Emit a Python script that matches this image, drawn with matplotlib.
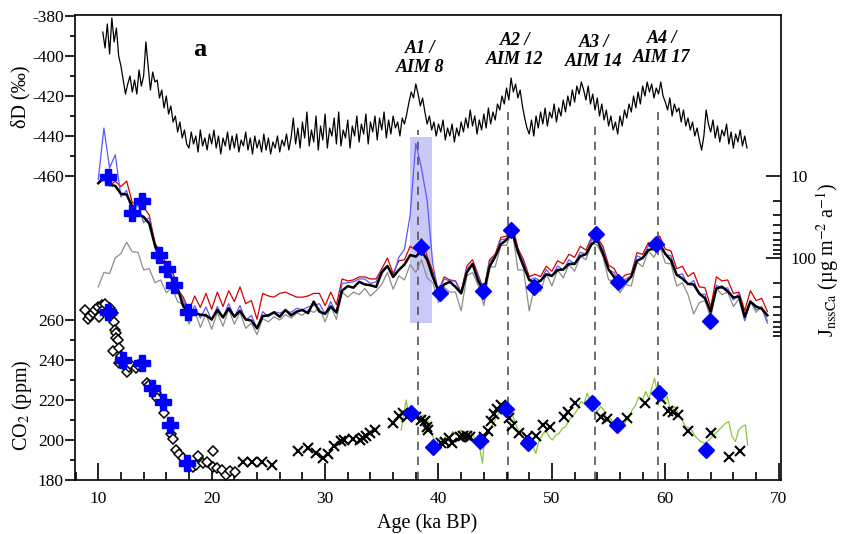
import numpy as np
import matplotlib.pyplot as plt
from matplotlib.ticker import NullFormatter

plt.rcParams['font.family'] = ['Liberation Serif', 'DejaVu Serif']
plt.rcParams['mathtext.fontset'] = 'stix'
plt.rcParams['axes.unicode_minus'] = False

# --- EDC deuterium (permil), sampled every 0.2 ka from 10.4 ka ---
dD = [-388, -396, -384, -399, -381, -393, -386, -400,
      -405, -412, -419, -414,
      -410, -418, -412, -419, -407, -415, -410, -393, -405, -417, -408, -413,
      -412, -421, -417, -426, -420, -429, -425, -433, -430, -438, -433, -441, -437, -444,
      -446, -438, -444, -440, -448, -437, -445, -441, -447, -439,
      -444, -437, -446, -440, -449, -441, -445, -438, -447, -440,
      -446, -439, -448, -442, -445, -438, -447, -441, -449, -440,
      -446, -442, -448, -439, -447, -441, -449, -443, -446, -440,
      -448, -442, -445, -439, -447, -441,
      -431, -444, -436, -446, -433, -441, -428, -445, -437, -443,
      -430, -447, -435, -442, -429, -446, -436, -440, -431, -444,
      -428, -445, -437, -441, -432, -446, -435, -440, -430, -443,
      -434, -439, -429, -444, -433, -438, -430, -442, -431, -437,
      -428, -441, -432, -439, -430, -436, -433, -440, -431, -434,
      -429, -423, -418, -421, -414, -419, -425, -421,
      -428, -434, -430, -437, -433, -440, -434, -438, -432, -442,
      -436, -440, -434, -443, -436, -440, -433, -438, -431, -436,
      -427, -435, -430, -439, -432, -437, -429, -436, -426, -434,
      -428, -432, -424, -427, -420, -424,
      -416, -422, -411, -418, -414, -421, -417, -425,
      -431, -436, -439, -432, -440, -430, -436, -428, -434, -426,
      -435, -428, -431, -424, -433, -426, -430, -422, -428, -420,
      -425, -417, -423, -415, -419, -413,
      -417, -422, -415, -424, -419, -427, -421, -430, -424, -432,
      -427, -435, -430, -437, -433, -439, -430, -435, -427, -431,
      -424, -428, -420, -426, -418, -424, -415, -420, -413, -418,
      -414, -421, -416, -419, -413, -420,
      -423, -427, -421, -430, -424, -428, -426, -433, -427, -435,
      -431, -437, -433, -440, -436, -442, -447, -440, -427, -434,
      -438, -432, -441, -435, -443, -437, -440, -434, -444, -438,
      -446, -439, -443, -437, -445, -440, -446]
dD_age = np.linspace(10.4, 67.2, len(dD))

# --- nssCa flux (ug m-2 a-1), every 0.5 ka from 10 to 69 ka ---
ca_black = [12.2, 10.4, 12.8, 13.2, 16.5, 16.8, 23.5, 29, 31.5, 38,
            70, 108, 116, 180, 235, 390, 455, 470, 490, 500,
            560, 430, 530, 410, 520, 440, 560, 580, 720, 510,
            500, 460, 520, 430, 500, 450, 430, 470, 340, 450,
            480, 390, 460, 250, 220, 230, 195, 210, 215, 225,
            150, 125, 170, 140, 120, 92, 96, 82, 105, 170,
            255, 210, 195, 225, 270, 150, 118, 190, 255, 128,
            96, 68, 60, 48, 84, 126, 185, 200, 190, 158,
            165, 140, 138, 118, 118, 95, 90, 68, 60, 88,
            138, 172, 205, 200, 168, 108, 100, 80, 77, 68,
            89, 107, 160, 178, 207, 210, 272, 310, 450, 236,
            224, 255, 303, 295, 520, 340, 390, 415, 500]
ca_red = [12.5, 11.0, 13.2, 11.6, 13.5, 11.5, 21, 23, 24, 30,
          66, 85, 118, 135, 240, 300, 440, 290, 400, 270,
          420, 260, 390, 250, 340, 225, 360, 330, 560, 270,
          290, 300, 270, 260, 280, 300, 300, 290, 270, 270,
          380, 260, 370, 180, 190, 185, 170, 170, 180, 180,
          135, 100, 155, 108, 105, 72, 80, 58, 95, 145,
          255, 170, 185, 190, 260, 125, 105, 160, 245, 105,
          90, 56, 54, 38, 76, 105, 168, 158, 168, 126,
          145, 108, 118, 90, 98, 72, 80, 56, 56, 72,
          122, 135, 185, 160, 155, 86, 90, 65, 70, 54,
          78, 82, 135, 126, 168, 150, 225, 230, 400, 170,
          190, 185, 270, 260, 440, 250, 330, 310, 450]
ca_blue = [11, 2.6, 8, 5.5, 18, 15, 30, 22, 37, 32,
           76, 88, 145, 142, 260, 320, 580, 380, 540, 395,
           580, 390, 530, 360, 520, 380, 580, 500, 720, 450,
           520, 450, 470, 440, 460, 410, 430, 395, 380, 360,
           480, 340, 470, 205, 200, 195, 180, 180, 205, 195,
           140, 125, 168, 98, 78, 30, 4.0, 8.0, 20, 120,
           260, 180, 190, 192, 270, 135, 118, 165, 258, 112,
           95, 60, 58, 42, 84, 112, 185, 175, 190, 138,
           168, 125, 140, 105, 118, 85, 90, 60, 62, 78,
           140, 150, 212, 180, 168, 94, 100, 71, 78, 60,
           90, 94, 162, 156, 212, 188, 280, 275, 500, 215,
           235, 232, 325, 268, 580, 340, 425, 410, 620]
ca_gray = [225, 150, 155, 100, 88, 64, 84, 85, 140, 135,
           200, 185, 265, 230, 340, 370, 640, 440, 700, 480,
           740, 460, 680, 420, 640, 460, 720, 620, 860, 550,
           600, 520, 570, 490, 540, 470, 500, 430, 460, 410,
           600, 390, 560, 260, 300, 260, 280, 235, 290, 250,
           210, 150, 240, 165, 185, 120, 150, 105, 175, 200,
           350, 225, 260, 260, 440, 165, 150, 215, 380, 130,
           128, 70, 70, 45, 140, 140, 440, 210, 255, 155,
           220, 140, 175, 120, 145, 95, 105, 65, 70, 95,
           185, 190, 265, 210, 220, 112, 128, 82, 98, 70,
           115, 118, 220, 200, 280, 480, 350, 330, 540, 235,
           280, 260, 390, 315, 580, 330, 460, 385, 580]
ca_age = np.linspace(10.0, 69.0, len(ca_black))

ca_plus_age = [10.9, 12.96, 13.84, 15.37, 16.1, 16.7, 17.95]
ca_plus_val = [10.2, 28.5, 20.2, 91.8, 137, 213, 452]
ca_dia_age = [38.47, 40.17, 43.9, 46.4, 48.45, 53.9, 55.85, 59.2, 63.9]
ca_dia_val = [74.1, 270, 251, 45.6, 224, 50.9, 194, 67.5, 582]

# --- CO2 (ppm) ---
co2_open_age = [8.86, 9.06, 9.3, 9.5, 9.7, 9.94, 10.1, 10.3, 10.4, 10.6, 11.05, 11.1,
                11.3, 11.4, 11.45, 11.55, 11.6, 11.7, 11.3, 11.85, 11.8, 12.0, 12.3,
                12.5, 12.7, 12.9, 13.3, 13.5, 14.28, 14.5, 15.1, 15.2, 15.83, 16.4,
                16.6, 16.86, 17.1, 17.45, 18.33, 18.6, 18.8, 19.2, 19.6, 20.1, 20.15,
                20.5, 20.9, 21.3, 21.6, 22.05]
co2_open_val = [265, 260.5, 262, 263.5, 265, 266.7, 261.7, 267.5, 265, 268, 266, 263,
                263.5, 259, 255, 253.3, 251, 250, 244.5, 246, 238.5, 242, 237.5,
                234, 236.5, 237.5, 236, 237.5, 228.7, 227.5, 223.5, 221, 213.7, 203,
                200.5, 195, 193, 191, 186.7, 187.7, 192, 188.5, 189, 186.5, 194.5,
                186, 185, 182.5, 184.5, 184]
co2_x_age = [22.75, 23.6, 24.4, 25.3, 27.6, 28.5, 29.23, 29.8, 30.3, 30.8, 31.4, 31.7,
             32.45, 33.1, 33.3, 33.6, 34.0, 34.4, 36.03, 36.5, 36.9, 37.2, 38.0, 38.45,
             38.8, 39.0, 39.1, 40.2, 40.6, 40.9, 41.2, 41.9, 42.2, 42.5, 42.8, 44.0,
             44.35, 44.6, 44.9, 45.2, 45.55, 46.2, 46.5, 47.1, 47.8, 48.6, 49.25, 49.8,
             51.07, 51.4, 52.0, 54.3, 54.9, 56.6, 58.2, 59.65, 60.2, 60.7, 61.1, 62.0,
             64.0, 65.65, 66.6]
co2_x_val = [189, 189, 189, 187.5, 194.7, 195.8, 193.3, 190.8, 193, 197, 199.7, 200,
             200.5, 200, 201, 202, 203.7, 205, 208.7, 212, 213.3, 211.3, 211.7, 210,
             209.7, 206.7, 205, 198.3, 199, 201, 198.3, 201.3, 202, 202, 201.7, 201.3,
             204.7, 209.7, 213, 215.3, 217.5, 210.8, 207, 203.7, 201.7, 202, 207.5, 206.7,
             211.7, 214.2, 218.3, 211.7, 210.3, 210.8, 218.3, 220.3, 214.7, 214.2, 212.5, 204.7,
             203.7, 191.3, 194.7]
co2_dia_age = [37.6, 39.55, 43.66, 45.95, 47.85, 53.5, 55.76, 59.43, 63.6]
co2_dia_val = [213.3, 196.3, 199.7, 215.3, 198.7, 218.7, 207.5, 223.3, 195]
co2_plus_age = [10.85, 12.2, 13.9, 14.7, 15.75, 16.3, 17.85]
co2_plus_val = [264.2, 240, 238.7, 225.8, 218.8, 207.5, 188.3]

green_age = [36.71, 37.15, 37.44, 37.73, 38.03, 38.32, 38.61, 39.05, 39.35, 39.79, 40.08,
             40.37, 40.67, 40.96, 41.25, 41.55, 41.99, 42.28, 42.72, 43.01, 43.31, 43.6,
             43.89, 44.04, 44.33, 44.63, 44.92, 45.21, 45.51, 45.95, 46.24, 46.53, 46.83,
             47.12, 47.41, 47.85, 48.29, 48.58, 48.87, 49.17, 49.46, 49.75, 50.04, 50.34,
             50.63, 50.92, 51.22, 51.51, 51.8, 52.24, 52.54, 52.83, 53.12, 53.42, 53.71,
             54.0, 54.3, 54.59, 54.88, 55.18, 55.47, 55.76, 56.2, 56.5, 56.79, 57.08,
             57.38, 57.67, 57.96, 58.26, 58.55, 58.84, 59.05, 59.28, 59.58, 59.87, 60.16,
             60.46, 60.9, 61.19, 61.48, 61.78, 62.22, 62.66, 63.1, 63.54, 63.98, 64.42,
             64.86, 65.3, 65.59, 65.89, 66.18, 66.47, 66.77, 67.06, 67.26]
green_val = [205, 220, 210, 215, 212.5, 210.8, 212.5, 210, 204.2, 197.5, 200.8,
             199.2, 202.5, 200.8, 204.2, 202.5, 205, 202.5, 204.7, 202.5, 200, 196.7,
             188.3, 200.8, 204.2, 206.7, 209.2, 212.5, 215, 213.3, 216.7, 212.5, 207.5,
             204.2, 201.7, 200, 197.5, 193.3, 200, 202.5, 205, 201.7, 200, 202.5,
             203.3, 205.8, 206.7, 210, 211.7, 215, 219.2, 218.3, 223.3, 219.2, 216.7,
             214.2, 216.7, 215, 209.2, 210.8, 207.5, 210, 205.8, 209.2, 210.8, 215,
             217.5, 221.7, 219.2, 224.2, 220.8, 226.7, 230.8, 224.2, 223.3, 219.2, 221.7,
             215, 216.7, 211.7, 210, 206.7, 205.8, 201.7, 199.2, 198.3, 200.8, 203.3,
             205.8, 208.3, 209.2, 201.7, 199.2, 205, 206.7, 207.5, 197.5]

events = [38.17, 46.16, 53.8, 59.39]
event_labels = ['A1 /\nAIM 8', 'A2 /\nAIM 12', 'A3 /\nAIM 14', 'A4 /\nAIM 17']

# ---------------------------------------------------------------
fig = plt.figure(figsize=(8.41, 5.34), dpi=100)
rect = [75 / 841, 54 / 534, 706 / 841, 465 / 534]
xlim = (7.95, 70.2)

ax = fig.add_axes(rect)
ax.set_xlim(*xlim)
ax.set_ylim(180, 412.5)
for s in ax.spines.values():
    s.set_linewidth(1.2)

ax_d = fig.add_axes(rect)
ax_d.set_xlim(*xlim)
ax_d.set_ylim(-612, -379.5)

ax_j = fig.add_axes(rect)
ax_j.set_xlim(*xlim)
ax_j.set_yscale('log')
ax_j.set_ylim(50900, 0.1088)

for a in (ax_d, ax_j):
    a.patch.set_visible(False)
    for s in a.spines.values():
        s.set_visible(False)
    a.xaxis.set_visible(False)

# shaded A1 window and event lines (bottom layer)
ax.axvspan(37.49, 39.41, ymin=0.3376, ymax=0.7376, color='#c9c9f7', lw=0, zorder=0.5)
for x, top in zip(events, [0.753, 0.791, 0.774, 0.791]):
    ax.axvline(x, ymin=0, ymax=top, color='#555555', lw=1.2, ls=(0, (5, 4)), zorder=1)

# CO2
ax.plot(green_age, green_val, color='#8dc63f', lw=0.9, zorder=2)
ax.plot(co2_open_age, co2_open_val, 'D', ms=5.5, mfc='white', mec='black', mew=1.1, zorder=3)
ax.plot(co2_x_age, co2_x_val, 'x', ms=7, mec='black', mew=1.5, zorder=3)
ax.plot(co2_dia_age, co2_dia_val, 'D', ms=8.5, color='#0000ff', zorder=4)
ax.plot(co2_plus_age, co2_plus_val, 'P', ms=11, color='#0000ff', mec='#0000ff', zorder=4)

# deuterium
ax_d.plot(dD_age, dD, color='black', lw=0.9)
ax_d.text(18.97, -397, 'a', fontsize=19, fontweight='bold', ha='center', va='center')
for x, lab, y in zip([38.37, 46.75, 53.72, 59.71], event_labels, [-401, -397, -398, -396]):
    ax_d.text(x, y, lab, fontsize=13, fontweight='bold', fontstyle='italic',
              ha='center', va='center', linespacing=1.1)

# dust flux
ax_j.plot(ca_age, ca_gray, color='#8c8c8c', lw=0.9)
ax_j.plot(ca_age, ca_red, color='#d40000', lw=0.9)
ax_j.plot(ca_age, ca_blue, color='#5a5aff', lw=0.9)
ax_j.plot(ca_age, ca_black, color='black', lw=1.8)
ax_j.plot(ca_dia_age, ca_dia_val, 'D', ms=8.5, color='#0000ff')
ax_j.plot(ca_plus_age, ca_plus_val, 'P', ms=11, color='#0000ff', mec='#0000ff')

# ticks
ax.set_xticks(np.arange(10, 71, 10))
ax.set_xticks([v for v in range(8, 71, 2) if v % 10], minor=True)
ax.tick_params(axis='x', which='major', direction='in', length=12, width=1.2,
               labelsize=12.5, pad=8, top=False)
ax.tick_params(axis='x', which='minor', direction='in', length=6, width=1.2, top=False)
ax.set_yticks([180, 200, 220, 240, 260])
ax.set_yticks([190, 210, 230, 250], minor=True)
ax.tick_params(axis='y', which='major', direction='out', length=7, width=1.2,
               labelsize=12.5, pad=1, right=False)
ax.tick_params(axis='y', which='minor', direction='out', length=3.6, width=1.2, right=False)

ax_d.set_yticks([-460, -440, -420, -400, -380])
ax_d.set_yticks([-450, -430, -410, -390], minor=True)
ax_d.tick_params(axis='y', which='major', direction='out', length=7, width=1.2,
                 labelsize=12.5, pad=1)
ax_d.tick_params(axis='y', which='minor', direction='out', length=3.6, width=1.2)

ax_j.yaxis.set_ticks_position('right')
ax_j.set_yticks([10, 100])
ax_j.set_yticklabels(['10', '100'])
ax_j.set_yticks([20, 30, 40, 50, 60, 70, 80, 90,
                 200, 300, 400, 500, 600, 700, 800, 900], minor=True)
ax_j.yaxis.set_minor_formatter(NullFormatter())
ax_j.tick_params(axis='y', which='major', direction='in', length=11, width=1.2,
                 labelsize=12.5, pad=7)
ax_j.tick_params(axis='y', which='minor', direction='in', length=6, width=1.2)

# axis titles
fig.text(427 / 841, 1 - 523 / 534, 'Age (ka BP)', fontsize=14.5, ha='center', va='center')
fig.text(21 / 841, 1 - 97 / 534, 'δD (‰)', fontsize=14.5, rotation=90,
         ha='center', va='center')
fig.text(22 / 841, 1 - 405 / 534, 'CO$_2$ (ppm)', fontsize=14.5, rotation=90,
         ha='center', va='center')
fig.text(828 / 841, 1 - 260 / 534, 'J$_{\\rm nssCa}$ (µg m$^{-2}$ a$^{-1}$)',
         fontsize=14.5, rotation=90, ha='center', va='center')

fig.savefig('out.png', dpi=100)
